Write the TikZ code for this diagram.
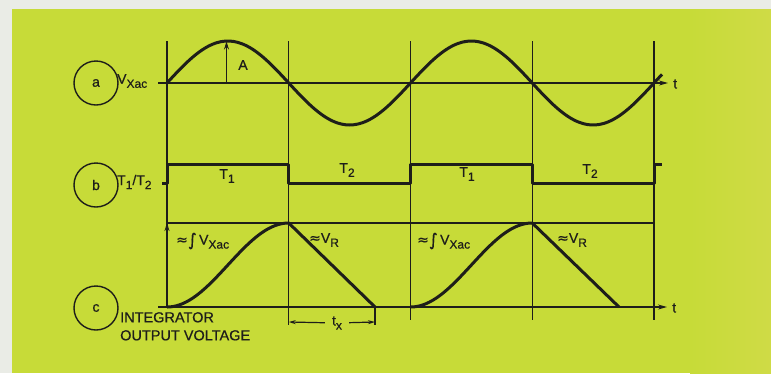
\documentclass[tikz,border=0pt]{standalone}
\usepackage{fontspec}
\setmainfont{Liberation Sans}[FakeBold=0.6]
\newfontfamily\symfnt{DejaVu Sans}[FakeBold=0.4]
\usepackage{tikz}
\usetikzlibrary{arrows.meta,calc}
\definecolor{panel}{RGB}{199,219,56}
\definecolor{panelr}{RGB}{207,219,70}
\definecolor{paper}{RGB}{234,236,230}
\definecolor{ink}{RGB}{30,30,26}
\newcommand{\lowtxt}[1]{\raisebox{-0.55ex}{\fontsize{12}{12}\selectfont #1}}
\newcommand{\aprx}{{\symfnt ≈}}
\newcommand{\integ}{\raisebox{-0.15ex}{\symfnt\fontsize{17}{17}\selectfont ∫}}

\begin{document}
\begin{tikzpicture}[x=1pt, y=-1pt, >=Stealth, line join=round,
    font=\fontsize{14}{16}\selectfont,
    every node/.style={text=ink, inner sep=0pt}]
  \def\h{121.75}
  \def\xo{167}
  \def\ya{83}
  \def\amp{42}
  \def\yhi{164}
  \def\ylo{183}
  \def\yc{307}
  \def\ytop{223}
  % paper and panel
  \useasboundingbox (0,0) rectangle (771,373);
  \fill[paper] (0,0) rectangle (771,373);
  \fill[panel] (12,9) rectangle (771,373);
  \shade[left color=panel, right color=panelr] (690,9) rectangle (771,373);
  % time marks
  \foreach \k/\yend in {0/307,1/325,2/320,3/320,4/320}
    \draw[ink, line width=1.2pt] ({\xo+\k*\h},41) -- ({\xo+\k*\h},\yend);
  % row labels
  \node[draw=ink, line width=1.4pt, circle, minimum size=44pt] (ca) at (96,83) {a};
  \node[draw=ink, line width=1.4pt, circle, minimum size=44pt] (cb) at (96,185) {b};
  \node[draw=ink, line width=1.4pt, circle, minimum size=44pt] (cc) at (96,308) {c};
  \node[anchor=west] (vxac) at (117,81) {V\lowtxt{Xac}};
  \node[anchor=west] (tt) at (117,182) {T\lowtxt{1}/T\lowtxt{2}};
  \node[anchor=north west, align=left, font=\fontsize{14.5}{18}\selectfont] (iov)
    at (120,312) {INTEGRATOR\\OUTPUT VOLTAGE};
  % (a) input sine
  \coordinate (a0) at (158,\ya);
  \coordinate (a1) at (668,\ya);
  \draw[ink, line width=1.2pt, -{Stealth[length=9pt,width=5pt]}] (a0) -- (a1);
  \node[anchor=west] (ta) at (673,84) {t};
  \draw[ink, line width=3pt, domain=\xo:662, samples=120, smooth]
    plot (\x, {\ya-\amp*sin(180*((\x-\xo)/\h))});
  \coordinate (pk) at (226.5,41.5);
  \coordinate (pb) at (226.5,\ya);
  \draw[ink, line width=1.2pt, -{Stealth[length=8pt,width=5pt]}] (pb) -- (pk);
  \node (amp) at (243,65) {A};
  % (b) T1/T2 gate
  \draw[ink, line width=3pt]
    (162,\ylo) -- (\xo,\ylo) -- (\xo,\yhi) -- ({\xo+\h},\yhi) -- ({\xo+\h},\ylo)
    -- ({\xo+2*\h},\ylo) -- ({\xo+2*\h},\yhi) -- ({\xo+3*\h},\yhi)
    -- ({\xo+3*\h},\ylo) -- ({\xo+4*\h},\ylo) -- ({\xo+4*\h},\yhi) -- (662,\yhi);
  \node (ta1) at (227,176) {T\lowtxt{1}};
  \node (tb1) at (347,170) {T\lowtxt{2}};
  \node (ta2) at (467,174) {T\lowtxt{1}};
  \node (tb2) at (590,171) {T\lowtxt{2}};
  % (c) integrator output
  \coordinate (c0) at (158,\yc);
  \coordinate (c1) at (667,\yc);
  \draw[ink, line width=1.2pt, -{Stealth[length=9pt,width=5pt]}] (c0) -- (c1);
  \node[anchor=west] (tc) at (672,308) {t};
  \draw[ink, line width=1.2pt] (\xo,\ytop) -- ({\xo+4*\h},\ytop);
  \draw[ink, line width=1.2pt, -{Stealth[length=8pt,width=5pt]}] (\xo,250) -- (\xo,\ytop);
  \foreach \s/\e in {0/375, 2/619} {
    \draw[ink, line width=3pt, domain={\xo+\s*\h}:{\xo+(\s+1)*\h}, samples=60, smooth]
      plot (\x, {\yc-(\yc-\ytop)*(1-cos(180*((\x-\xo-\s*\h)/\h)))/2})
      -- (\e,\yc);
  }
  \node[anchor=west] (int1) at (176,241) {\aprx\integ\,V\lowtxt{Xac}};
  \node[anchor=west] (int2) at (417,241) {\aprx\integ\,V\lowtxt{Xac}};
  \node[anchor=west] (vr1) at (309,240) {\aprx V\lowtxt{R}};
  \node[anchor=west] (vr2) at (557,240) {\aprx V\lowtxt{R}};
  % t_x
  \draw[ink, line width=1.2pt] (375,\yc) -- (375,325);
  \coordinate (txl) at ({\xo+\h},322);
  \coordinate (txr) at (375,322);
  \node[inner sep=7pt] (tx) at (337,323) {t\lowtxt{x}};
  \draw[ink, line width=1.2pt, -{Stealth[length=7pt,width=4pt]}] (tx) -- (txl);
  \draw[ink, line width=1.2pt, -{Stealth[length=7pt,width=4pt]}] (tx) -- (txr);
\end{tikzpicture}
\end{document}
